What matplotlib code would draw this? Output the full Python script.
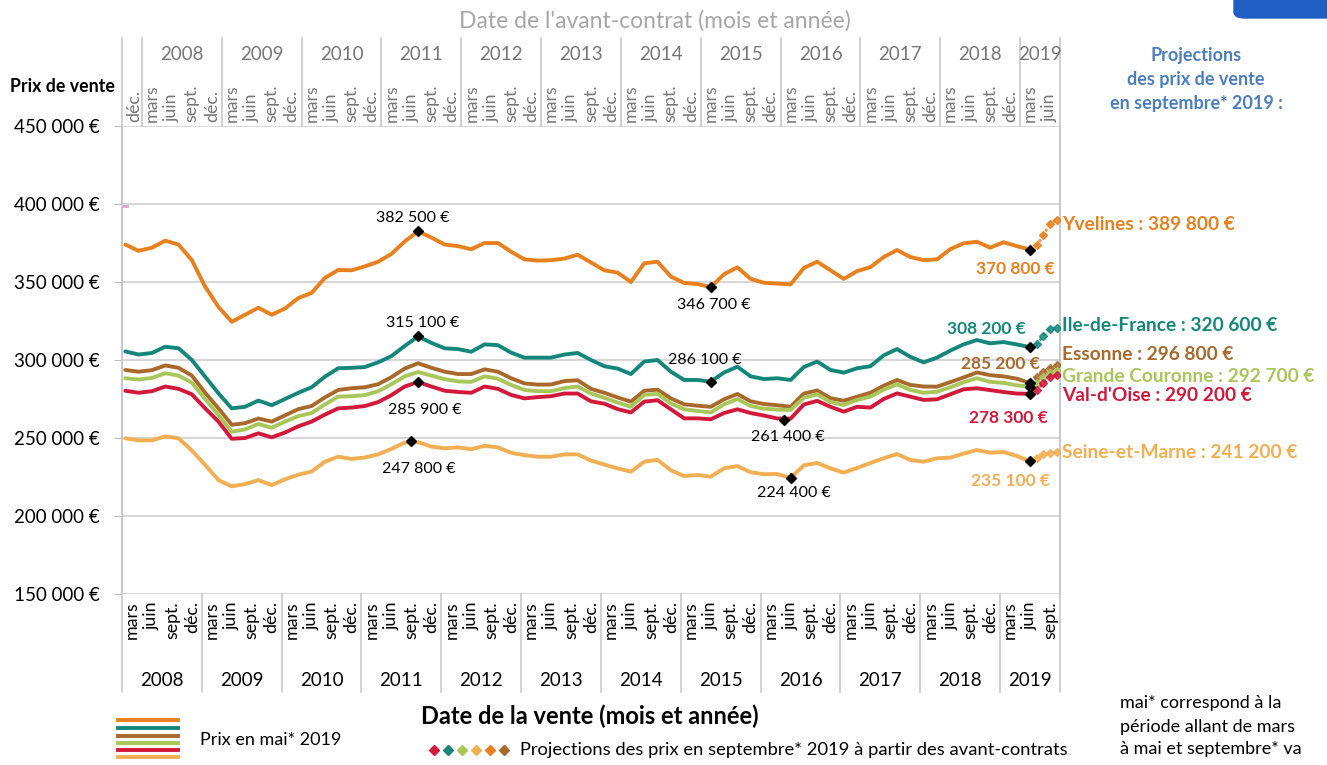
import matplotlib
matplotlib.use("Agg")
import matplotlib.pyplot as plt
from matplotlib.lines import Line2D
from matplotlib.patches import FancyBboxPatch
import numpy as np

plt.rcParams['font.family'] = ['Lato', 'DejaVu Sans']

# ---------------- data (thousands of euros) ----------------
months = list(range(0, 137, 2))   # 0 = janvier 2008 (date de la vente)

yvelines = [374, 370, 372, 376.5, 374, 364, 347, 334, 324.5, 329,
            333.5, 329, 333, 339.7, 343, 352.6, 357.7, 357.5, 360, 363,
            368, 376, 382.5, 378.5, 374, 373, 371, 375, 375, 369.4,
            364.5, 363.7, 364, 365, 367.5, 362.5, 357.5, 356, 350, 362,
            363, 353.5, 349.4, 348.7, 346.7, 355, 359.4, 352, 349.5, 349,
            348.5, 359, 363, 357.5, 352, 357, 359.5, 366, 370.5, 366,
            364, 364.5, 371, 374.8, 375.8, 372, 375.5, 373, 370.8]
idf = [305.5, 303.5, 304.5, 308.5, 307.5, 300, 289.3, 278.6, 269, 270,
       274, 271, 275, 279, 282.5, 289.3, 294.7, 295, 295.5, 298.5,
       302.5, 309, 315.1, 311, 307.5, 307, 305.3, 310, 309.5, 304.7,
       301.5, 301.5, 301.5, 303.5, 304.5, 300, 296, 294.5, 291, 299,
       300, 292.5, 287.2, 287.2, 286.1, 292, 295.7, 289.5, 287.8, 288.3,
       287.2, 295.5, 299, 293.6, 291.9, 294.7, 296, 303, 307, 302,
       298.5, 301.5, 306, 310, 312.8, 310.7, 311.5, 310, 308.2]
essonne = [293.6, 292.5, 293.5, 296.5, 295, 290, 279, 269, 258.5, 259.5,
           262.5, 260.5, 264.5, 268.5, 270.5, 276, 280.8, 281.9, 282.5, 284.5,
           289, 294.5, 297.9, 295, 292.5, 291, 291, 294, 292.5, 288.3,
           285, 284.2, 284.3, 286.5, 287, 281.5, 279, 276, 273.3, 280.3,
           281, 275.4, 271.6, 270.7, 270, 274.8, 278.2, 273.5, 271.8, 271,
           270, 278.5, 280.5, 275.5, 273.9, 276.5, 279, 283.5, 287.2, 284,
           283, 282.9, 285.8, 288.8, 292, 290.3, 289.5, 288, 285.2]
grande_couronne = [288.3, 287.5, 288.5, 291.5, 290, 285.5, 275, 264.7, 254, 255.5,
                   259, 256.6, 260.5, 264, 266, 271.5, 276.5, 276.8, 277.5, 280,
                   284.5, 289.5, 292.3, 290, 287.7, 286.3, 286, 289.5, 288, 284,
                   280.8, 280, 280, 282, 283, 278.5, 275.8, 272.7, 270, 277.6,
                   278.4, 272.2, 268.4, 267.3, 266.4, 271.6, 275, 270.5, 268.8, 268.2,
                   268, 275.8, 278, 273, 271.2, 274.4, 276.5, 281, 284.4, 280.8,
                   279, 279.7, 282.5, 285.7, 288.3, 286, 285.3, 283.8, 282.9]
val_doise = [280.3, 279, 280, 283, 281.5, 278, 269, 260.5, 249.5, 250,
             253, 250.4, 253.5, 257.5, 260.5, 265, 269, 269.5, 270.5, 273,
             277.5, 283, 285.9, 283, 280.3, 279.5, 279, 283, 281.5, 277.6,
             275.4, 276.2, 276.8, 278.5, 278.5, 273.5, 272, 268.5, 266.4, 273.3,
             274.2, 268.4, 262.6, 262.6, 262, 266, 268.4, 266, 264.4, 262.5,
             262.4, 271.5, 273.8, 270, 266.9, 270, 269.5, 275, 278.6, 276.5,
             274.4, 274.8, 278, 281.2, 281.9, 280.7, 279.5, 278.5, 278.3]
seine_et_marne = [249.8, 248.5, 248.5, 251, 249.8, 242, 232.7, 223, 219, 220.5,
                  223, 219.8, 223.5, 226.5, 228.5, 234.8, 238, 236.6, 237.5, 239.5,
                  243, 247, 247.3, 244.5, 243.4, 244, 242.8, 245, 244, 240.5,
                  239, 238, 238, 239.5, 239.5, 235.5, 233, 230.5, 228.4, 234.8,
                  236, 229.3, 225.6, 226.3, 225.2, 230.6, 232, 228, 226.8, 226.9,
                  224.4, 232.5, 234, 230.5, 227.8, 230.8, 234, 237, 239.7, 235.9,
                  234.8, 237, 237.4, 240, 242.3, 240.6, 241, 238.5, 235.1]

proj_months = [136, 137, 138, 139, 140]   # mai -> septembre 2019
proj_yvelines = [370.8, 373.5, 380, 387.5, 389.8]
proj_idf = [308.2, 310, 315.5, 320, 320.6]
proj_essonne = [285.2, 289, 292.5, 295, 296.8]
proj_gc = [282.9, 285.5, 289, 291.5, 292.7]
proj_vdo = [278.3, 280.5, 285, 289, 290.2]
proj_sem = [235.1, 237.5, 239.5, 240.3, 241.2]

# labelled points: (month, value, text)
point_labels = [(44, 382.5, "382 500 €"), (44, 315.1, "315 100 €"),
                (44, 285.9, "285 900 €"), (43, 247.8, "247 800 €"),
                (88, 346.7, "346 700 €"), (88, 286.1, "286 100 €"),
                (99, 261.4, "261 400 €"), (100, 224.4, "224 400 €")]
label_offsets = [(-5, 13), (5, 13), (7, -28), (7, -28),
                 (3, -18), (-6, 22), (4, -17), (3, -15)]

may_labels = ["370 800 €", "308 200 €", "285 200 €", None, "278 300 €", "235 100 €"]
may_offsets = [(-15, -19), (-44, 18), (-30, 19), None, (-22, -24), (-20, -20)]

names = ["Yvelines : 389 800 €", "Ile-de-France : 320 600 €", "Essonne : 296 800 €",
         "Grande Couronne : 292 700 €", "Val-d'Oise : 290 200 €", "Seine-et-Marne : 241 200 €"]
name_y_px = [224, 325, 355, 376, 395, 453]

colors = ["#E8801E", "#14877A", "#A9692B", "#A8C65A", "#D2193C", "#F2AE52"]

yticks = [150000, 200000, 250000, 300000, 350000, 400000, 450000]
ytick_labels = ["150 000 €", "200 000 €", "250 000 €", "300 000 €",
                "350 000 €", "400 000 €", "450 000 €"]

month_names = {2: "mars", 5: "juin", 8: "sept.", 11: "déc."}
years = list(range(2008, 2020))

# ---------------- figure ----------------
W, H = 1327, 765
fig = plt.figure(figsize=(W / 100, H / 100), dpi=100)


def fx(px):
    return px / W


def fy(py):
    return 1 - py / H


L, R, T, B = 122, 1060, 126, 594
ax = fig.add_axes([fx(L), fy(B), (R - L) / W, (B - T) / H])
XMIN, XMAX = -0.5, 140.5
ax.set_xlim(XMIN, XMAX)
ax.set_ylim(150000, 450000)
grid_c = "#D0D0D0"
ax.set_yticks(yticks)
ax.set_yticklabels(ytick_labels, fontsize=13.5, color="#000000")
ax.tick_params(axis="y", length=6, color="#BFBFBF", pad=10)
ax.set_xticks([])
for v in yticks:
    ax.axhline(v, color=grid_c, lw=1.2, zorder=0)
for s in ["left", "right"]:
    ax.spines[s].set_color("#BFBFBF")
    ax.spines[s].set_linewidth(1.2)
for s in ["top", "bottom"]:
    ax.spines[s].set_visible(False)

series = [yvelines, idf, essonne, grande_couronne, val_doise, seine_et_marne]
projs = [proj_yvelines, proj_idf, proj_essonne, proj_gc, proj_vdo, proj_sem]
order = [5, 0, 1, 2, 3, 4]
for i in order:
    vals = np.array(series[i]) * 1000
    ax.plot(months, vals, color=colors[i], lw=2.8, solid_capstyle="round",
            solid_joinstyle="round", zorder=3)
for i in order:
    pv = np.array(projs[i]) * 1000
    ax.plot(proj_months, pv, color=colors[i], lw=2.0, ls=(0, (1, 1.2)),
            marker="D", ms=4, zorder=3, alpha=0.85)
    ax.plot([proj_months[0]], [pv[0]], marker="D", color="black", ms=5, zorder=5)

# small pink tick artefact
ax.plot([-0.5, 0.3], [399000, 399000], color="#E0A0C0", lw=2, zorder=2)

for (m, v, t), (dx, dy) in zip(point_labels, label_offsets):
    ax.plot([m], [v * 1000], marker="D", color="black", ms=5, zorder=5)
    ax.annotate(t, (m, v * 1000), xytext=(dx, dy), textcoords="offset pixels",
                ha="center", va="center", fontsize=11.5, color="black", zorder=6)

for i, t in enumerate(may_labels):
    if t is None:
        continue
    dx, dy = may_offsets[i]
    ax.annotate(t, (proj_months[0], projs[i][0] * 1000), xytext=(dx, dy),
                textcoords="offset pixels", ha="center", va="center",
                fontsize=12.5, fontweight="bold", color=colors[i], zorder=6)

for i, t in enumerate(names):
    fig.text(fx(1062), fy(name_y_px[i]), t, ha="left", va="center", fontsize=13.8,
             fontweight="bold", color=colors[i])

# ---------------- bottom band (date de la vente) ----------------
BT, BB = 594, 692
axb = fig.add_axes([fx(L), fy(BB), (R - L) / W, (BB - BT) / H])
axb.set_xlim(XMIN, XMAX)
axb.set_ylim(0, 1)
axb.axis("off")
sep_c = "#C8C8C8"


def by(py):
    return (BB - py) / (BB - BT)


bounds = [12 * k - 0.5 for k in range(12)] + [XMAX]
for b in bounds:
    axb.plot([b, b], [0, 1], color=sep_c, lw=1.2, clip_on=False)
for yi, yr in enumerate(years):
    for mm, nm in month_names.items():
        m = yi * 12 + mm
        if m > 140:
            continue
        axb.text(m - 1.0, by(601), nm, rotation=90, ha="center", va="top",
                 fontsize=12.8, color="black")
    lo = yi * 12 - 0.5
    hi = min(lo + 12, XMAX)
    axb.text((lo + hi) / 2, by(680), str(yr), ha="center", va="center",
             fontsize=13.5, color="black")

# ---------------- top band (date de l'avant-contrat) ----------------
TT, TB = 38, 126
axt = fig.add_axes([fx(L), fy(TB), (R - L) / W, (TB - TT) / H])
axt.set_xlim(XMIN, XMAX)
axt.set_ylim(0, 1)
axt.axis("off")
top_c = "#767676"


def ty(py):
    return (TB - py) / (TB - TT)


tbounds = [XMIN] + [12 * k + 2.5 for k in range(12)] + [XMAX]
for b in tbounds:
    axt.plot([b, b], [0, 1], color=sep_c, lw=1.2, clip_on=False)
axt.text(-1 + 2 + 0.3, ty(122), "déc.", rotation=90, ha="center", va="bottom",
         fontsize=12.8, color=top_c)
for yi, yr in enumerate(years):
    for mm, nm in month_names.items():
        a = yi * 12 + mm
        x = a + 3 - 1.0
        if x > 139.5:
            continue
        axt.text(x, ty(122), nm, rotation=90, ha="center", va="bottom",
                 fontsize=12.8, color=top_c)
    lo = yi * 12 + 2.5
    hi = min(lo + 12, XMAX)
    axt.text((lo + hi) / 2, ty(55), str(yr), ha="center", va="center",
             fontsize=13.5, color=top_c)

# ---------------- titles & texts ----------------
fig.text(fx(655), fy(21), "Date de l'avant-contrat (mois et année)", ha="center",
         va="center", fontsize=16.5, color="#A6A6A6")
fig.text(fx(10), fy(86), "Prix de vente", ha="left", va="center", fontsize=12.8,
         fontweight="bold", color="black")
fig.text(fx(590), fy(716), "Date de la vente (mois et année)", ha="center",
         va="center", fontsize=17, fontweight="bold", color="black")
blue = "#4A7EC0"
for txt, yy in [("Projections", 56), ("des prix de vente", 80),
                ("en septembre* 2019 :", 104)]:
    fig.text(fx(1196), fy(yy), txt, ha="center", va="center", fontsize=13,
             fontweight="bold", color=blue)

for txt, yy in [("mai* correspond à la", 703), ("période allant de mars", 727),
                ("à mai et septembre* va", 749)]:
    fig.text(fx(1120), fy(yy), txt, ha="left", va="center", fontsize=13,
             color="black")

# legend: lines
leg_y = [720, 728, 736, 743, 750, 757]
for c, yy in zip(colors, leg_y):
    fig.add_artist(Line2D([fx(118), fx(178)], [fy(yy), fy(yy)], color=c, lw=2.8,
                          transform=fig.transFigure))
fig.text(fx(200), fy(740), "Prix en mai* 2019", ha="left", va="center",
         fontsize=13, color="black")

dia_colors = [colors[4], colors[1], colors[3], colors[5], colors[0], colors[2]]
for k, c in enumerate(dia_colors):
    fig.add_artist(Line2D([fx(434 + k * 14)], [fy(750)], color=c, marker="D",
                          ms=5, lw=0, transform=fig.transFigure))
fig.text(fx(520), fy(750), "Projections des prix en septembre* 2019 à partir des avant-contrats",
         ha="left", va="center", fontsize=13.2, color="black")

# blue box top right
box = FancyBboxPatch((fx(1234), fy(18)), fx(1340) - fx(1234), fy(-10) - fy(18),
                     boxstyle="round,pad=0,rounding_size=0.008",
                     transform=fig.transFigure, color="#1F5FC4", clip_on=False)
fig.add_artist(box)

fig.savefig("out.png", dpi=100)
